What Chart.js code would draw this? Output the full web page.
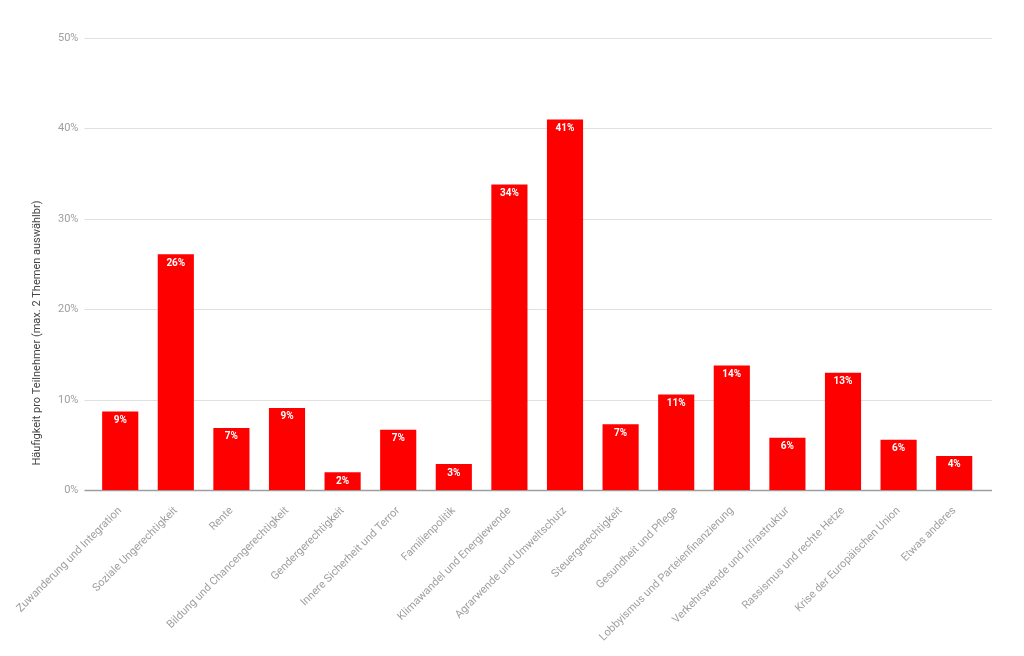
<!DOCTYPE html>
<html>
<head>
<meta charset="utf-8">
<script src="https://cdn.jsdelivr.net/npm/chart.js@4"></script>
<style>
  body { margin: 0; background: #fff; }
  #wrap { width: 1024px; height: 656px; }
</style>
</head>
<body>
<div id="wrap"><canvas id="myChart"></canvas></div>
<script>
const labels = [
    "Zuwanderung und Integration",
    "Soziale Ungerechtigkeit",
    "Rente",
    "Bildung und Chancengerechtigkeit",
    "Gendergerechtigkeit",
    "Innere Sicherheit und Terror",
    "Familienpolitik",
    "Klimawandel und Energiewende",
    "Agrarwende und Umweltschutz",
    "Steuergerechtigkeit",
    "Gesundheit und Pflege",
    "Lobbyismus und Parteienfinanzierung",
    "Verkehrswende und Infrastruktur",
    "Rassismus und rechte Hetze",
    "Krise der Europäischen Union",
    "Etwas anderes",
];

// share of participants, in percent
const values = [8.7, 26.1, 6.9, 9.1, 2.0, 6.7, 2.9, 33.8, 41.0, 7.3, 10.6, 13.8, 5.8, 13.0, 5.6, 3.8];

const yTicks = [0, 10, 20, 30, 40, 50];
const yTitle = "Häufigkeit pro Teilnehmer (max. 2 Themen auswählbr)";

Chart.defaults.font.family = "Roboto";

// horizontal grid lines, a bit wider than the bar area
const wideGrid = {
    id: "wideGrid",
    beforeDatasetsDraw(chart) {
        const ctx = chart.ctx;
        const area = chart.chartArea;
        const y = chart.scales.y;
        ctx.save();
        y.ticks.forEach(t => {
            const py = Math.round(y.getPixelForValue(t.value)) + 0.5;
            ctx.strokeStyle = t.value === 0 ? "#9e9e9e" : "#e0e0e0";
            ctx.lineWidth = t.value === 0 ? 1.5 : 1;
            ctx.beginPath();
            ctx.moveTo(area.left - 8, py);
            ctx.lineTo(area.right + 10, py);
            ctx.stroke();
        });
        ctx.restore();
    }
};

// white value labels inside the top of each bar
const barLabels = {
    id: "barLabels",
    afterDatasetsDraw(chart) {
        const ctx = chart.ctx;
        const meta = chart.getDatasetMeta(0);
        ctx.save();
        ctx.fillStyle = "#ffffff";
        ctx.font = "bold 10px Roboto";
        ctx.textAlign = "center";
        ctx.textBaseline = "top";
        meta.data.forEach((bar, i) => {
            ctx.fillText(Math.round(values[i]) + "%", bar.x, bar.y + 4);
        });
        ctx.restore();
    }
};

// axis title placed like in the original (a bit below the middle)
const sideTitle = {
    id: "sideTitle",
    afterDraw(chart) {
        const ctx = chart.ctx;
        ctx.save();
        ctx.translate(37, 333);
        ctx.rotate(-Math.PI / 2);
        ctx.fillStyle = "#444444";
        ctx.font = "11px Roboto";
        ctx.textAlign = "center";
        ctx.textBaseline = "middle";
        ctx.fillText(yTitle, 0, 0);
        ctx.restore();
    }
};

const data = {
    labels,
    datasets: [{
        data: values,
        backgroundColor: "#ff0000",
        barPercentage: 0.65,
        categoryPercentage: 1.0,
    }],
};

const config = {
    type: "bar",
    data: data,
    options: {
        responsive: true,
        maintainAspectRatio: false,
        animation: false,
        layout: {
            padding: { top: 38, right: 42, bottom: 6, left: 44 }
        },
        scales: {
            y: {
                min: 0,
                max: 50,
                afterBuildTicks: (scale) => {
                    scale.ticks = yTicks.map(v => ({ value: v }));
                },
                grid: { display: false, drawTicks: false },
                border: { display: false },
                ticks: {
                    color: "#9e9e9e",
                    font: { size: 11 },
                    padding: 14,
                    callback: (v) => v + "%"
                },
            },
            x: {
                grid: { display: false },
                border: { display: false },
                ticks: {
                    color: "#9e9e9e",
                    font: { size: 11 },
                    maxRotation: 45,
                    minRotation: 45,
                    autoSkip: false,
                    padding: 6,
                }
            }
        },
        plugins: {
            legend: { display: false },
            tooltip: { enabled: false },
        },
        hover: { mode: null }
    },
    plugins: [wideGrid, barLabels, sideTitle]
};

const myChart = new Chart(document.getElementById("myChart"), config);
</script>
</body>
</html>
